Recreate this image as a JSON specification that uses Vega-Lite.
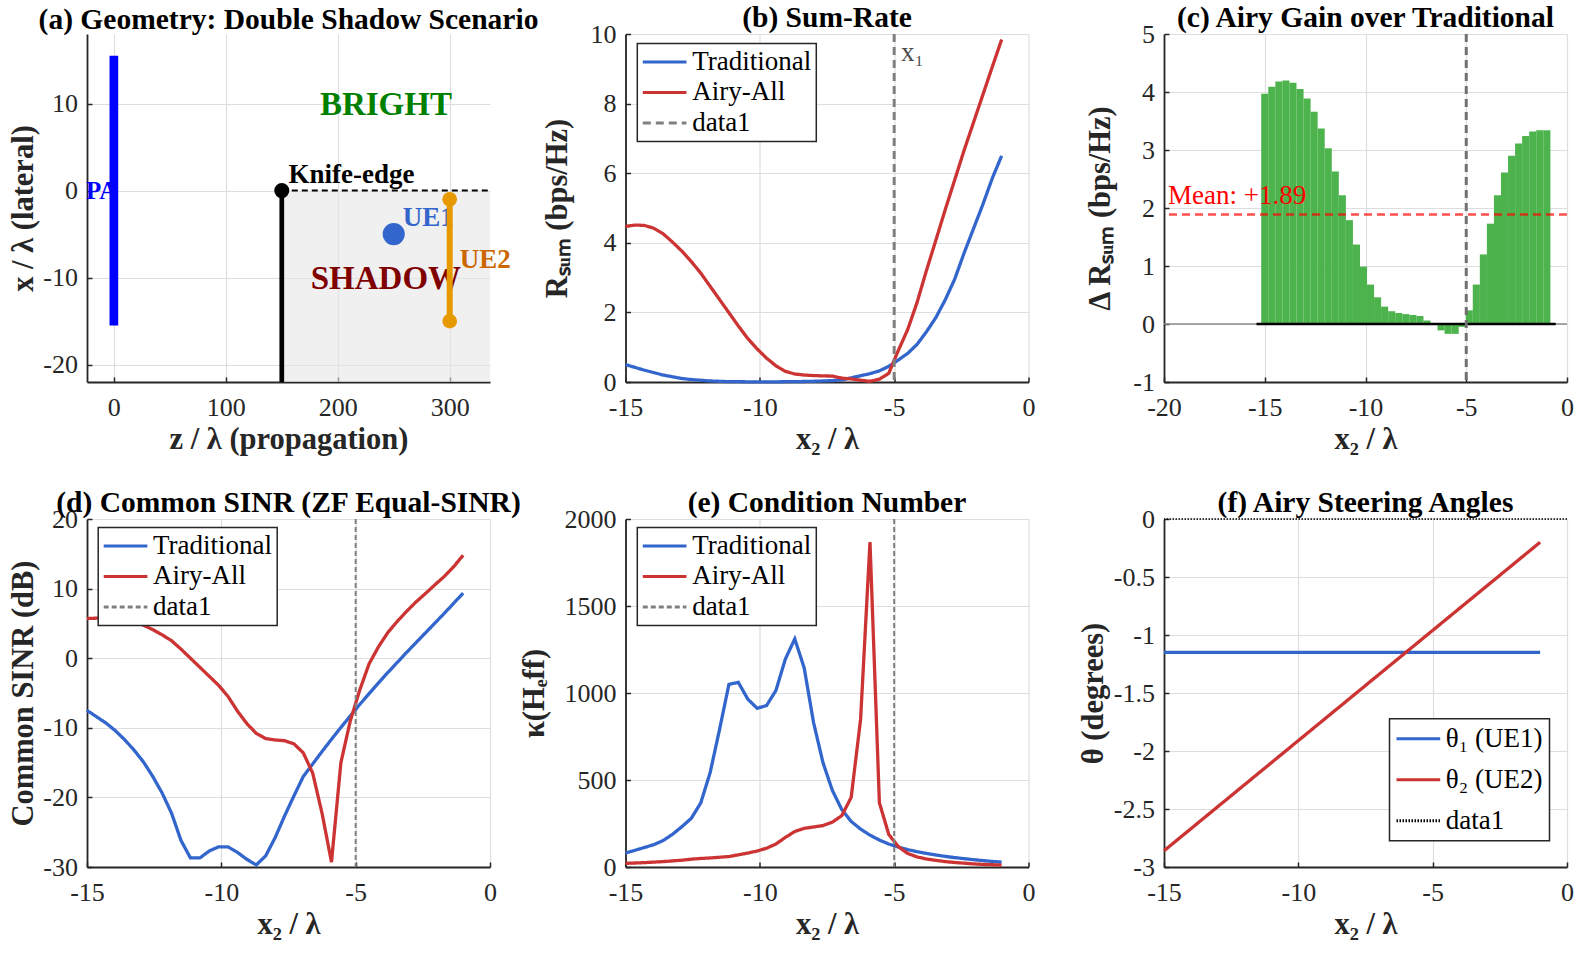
{
  "$schema": "https://vega.github.io/schema/vega-lite/v6.json",
  "background": "#FFFFFF",
  "padding": {"left": 8, "top": 3, "right": 2, "bottom": 2},
  "columns": 3,
  "spacing": {"row": 137, "column": 135.5},
  "bounds": "flush",
  "resolve": {
    "scale": {"color": "independent", "strokeDash": "independent"},
    "legend": {"color": "independent", "strokeDash": "independent"}
  },
  "config": {
    "font": "Liberation Serif",
    "view": {"stroke": null},
    "title": {"font": "Liberation Serif", "fontSize": 29.5, "fontWeight": "bold", "color": "#000000", "anchor": "middle", "frame": "group", "offset": 7, "baseline": "alphabetic"},
    "axis": {
      "domainColor": "#262626", "domainWidth": 1.8,
      "tickColor": "#262626", "tickWidth": 1.5, "tickSize": -5,
      "gridColor": "#DEDEDE", "gridWidth": 1.2,
      "labelFont": "Liberation Serif", "labelFontSize": 26, "labelColor": "#262626",
      "labelFlush": false, "labelOverlap": false, "labelBound": false,
      "labelExpr": "'' + datum.value",
      "titleFont": "Liberation Serif", "titleFontSize": 30.5, "titleFontWeight": "bold", "titleColor": "#262626"
    },
    "axisX": {"labelPadding": 38, "labelBaseline": "alphabetic", "titleY": 66, "titleBaseline": "alphabetic"},
    "axisY": {"labelPadding": 14.5, "titleAngle": -90, "titleBaseline": "alphabetic"},
    "legend": {
      "labelFont": "Liberation Serif", "labelFontSize": 27, "labelColor": "#000000",
      "symbolType": "M-1.9,0H1.9", "symbolSize": 529, "symbolStrokeWidth": 3,
      "symbolOffset": 8.85, "labelOffset": 14, "padding": 5, "rowPadding": 2.5,
      "strokeColor": "#262626", "fillColor": "#FFFFFF", "strokeWidth": 1.5
    }
  },
  "datasets": {
    "perf": [
      {"x": -15, "s": "Traditional", "R": 0.5, "S": -7.5, "K": 80}, {"x": -15, "s": "Airy-All", "R": 4.47, "S": 5.7, "K": 21},
      {"x": -14.65, "s": "Traditional", "R": 0.42, "S": -8.4, "K": 96}, {"x": -14.65, "s": "Airy-All", "R": 4.51, "S": 5.75, "K": 23},
      {"x": -14.3, "s": "Traditional", "R": 0.34, "S": -9.3, "K": 112}, {"x": -14.3, "s": "Airy-All", "R": 4.5, "S": 5.75, "K": 25},
      {"x": -13.95, "s": "Traditional", "R": 0.27, "S": -10.4, "K": 128}, {"x": -13.95, "s": "Airy-All", "R": 4.42, "S": 5.7, "K": 28},
      {"x": -13.6, "s": "Traditional", "R": 0.2, "S": -11.7, "K": 152}, {"x": -13.6, "s": "Airy-All", "R": 4.26, "S": 5.5, "K": 31},
      {"x": -13.25, "s": "Traditional", "R": 0.15, "S": -13.2, "K": 188}, {"x": -13.25, "s": "Airy-All", "R": 4.02, "S": 5.2, "K": 35},
      {"x": -12.9, "s": "Traditional", "R": 0.1, "S": -14.9, "K": 232}, {"x": -12.9, "s": "Airy-All", "R": 3.76, "S": 4.75, "K": 39},
      {"x": -12.55, "s": "Traditional", "R": 0.07, "S": -17, "K": 280}, {"x": -12.55, "s": "Airy-All", "R": 3.46, "S": 4.1, "K": 45},
      {"x": -12.2, "s": "Traditional", "R": 0.05, "S": -19.4, "K": 368}, {"x": -12.2, "s": "Airy-All", "R": 3.13, "S": 3.35, "K": 49},
      {"x": -11.85, "s": "Traditional", "R": 0.03, "S": -22.3, "K": 542}, {"x": -11.85, "s": "Airy-All", "R": 2.75, "S": 2.5, "K": 52},
      {"x": -11.5, "s": "Traditional", "R": 0.02, "S": -26.2, "K": 790}, {"x": -11.5, "s": "Airy-All", "R": 2.37, "S": 1.3, "K": 56},
      {"x": -11.15, "s": "Traditional", "R": 0.01, "S": -28.7, "K": 1050}, {"x": -11.15, "s": "Airy-All", "R": 1.99, "S": 0, "K": 60},
      {"x": -10.8, "s": "Traditional", "R": 0.01, "S": -28.7, "K": 1061}, {"x": -10.8, "s": "Airy-All", "R": 1.61, "S": -1.3, "K": 70},
      {"x": -10.45, "s": "Traditional", "R": 0.005, "S": -27.7, "K": 965}, {"x": -10.45, "s": "Airy-All", "R": 1.25, "S": -2.6, "K": 80},
      {"x": -10.1, "s": "Traditional", "R": 0.005, "S": -27.1, "K": 912}, {"x": -10.1, "s": "Airy-All", "R": 0.95, "S": -3.9, "K": 92},
      {"x": -9.75, "s": "Traditional", "R": 0.005, "S": -27.1, "K": 928}, {"x": -9.75, "s": "Airy-All", "R": 0.685, "S": -5.5, "K": 108},
      {"x": -9.4, "s": "Traditional", "R": 0.005, "S": -27.9, "K": 1015}, {"x": -9.4, "s": "Airy-All", "R": 0.465, "S": -7.6, "K": 132},
      {"x": -9.05, "s": "Traditional", "R": 0.008, "S": -28.9, "K": 1195}, {"x": -9.05, "s": "Airy-All", "R": 0.305, "S": -9.4, "K": 170},
      {"x": -8.7, "s": "Traditional", "R": 0.01, "S": -29.7, "K": 1311}, {"x": -8.7, "s": "Airy-All", "R": 0.23, "S": -10.8, "K": 204},
      {"x": -8.35, "s": "Traditional", "R": 0.015, "S": -28.4, "K": 1145}, {"x": -8.35, "s": "Airy-All", "R": 0.2, "S": -11.55, "K": 222},
      {"x": -8, "s": "Traditional", "R": 0.02, "S": -25.8, "K": 830}, {"x": -8, "s": "Airy-All", "R": 0.185, "S": -11.75, "K": 230},
      {"x": -7.65, "s": "Traditional", "R": 0.03, "S": -22.7, "K": 600}, {"x": -7.65, "s": "Airy-All", "R": 0.175, "S": -11.85, "K": 238},
      {"x": -7.3, "s": "Traditional", "R": 0.04, "S": -19.8, "K": 440}, {"x": -7.3, "s": "Airy-All", "R": 0.17, "S": -12.3, "K": 258},
      {"x": -6.95, "s": "Traditional", "R": 0.06, "S": -17, "K": 330}, {"x": -6.95, "s": "Airy-All", "R": 0.11, "S": -13.6, "K": 295},
      {"x": -6.6, "s": "Traditional", "R": 0.12, "S": -15.2, "K": 262}, {"x": -6.6, "s": "Airy-All", "R": 0.09, "S": -16.5, "K": 400},
      {"x": -6.25, "s": "Traditional", "R": 0.18, "S": -13.4, "K": 218}, {"x": -6.25, "s": "Airy-All", "R": 0.05, "S": -22.3, "K": 848},
      {"x": -5.9, "s": "Traditional", "R": 0.24, "S": -11.65, "K": 183}, {"x": -5.9, "s": "Airy-All", "R": 0.02, "S": -29.3, "K": 1868},
      {"x": -5.55, "s": "Traditional", "R": 0.32, "S": -9.95, "K": 155}, {"x": -5.55, "s": "Airy-All", "R": 0.08, "S": -15, "K": 369},
      {"x": -5.2, "s": "Traditional", "R": 0.45, "S": -8.3, "K": 132}, {"x": -5.2, "s": "Airy-All", "R": 0.25, "S": -9, "K": 187},
      {"x": -4.85, "s": "Traditional", "R": 0.63, "S": -6.65, "K": 115}, {"x": -4.85, "s": "Airy-All", "R": 0.9, "S": -4.6, "K": 118},
      {"x": -4.5, "s": "Traditional", "R": 0.82, "S": -5.1, "K": 100}, {"x": -4.5, "s": "Airy-All", "R": 1.5, "S": -0.8, "K": 78},
      {"x": -4.15, "s": "Traditional", "R": 1.08, "S": -3.55, "K": 88}, {"x": -4.15, "s": "Airy-All", "R": 2.28, "S": 1.65, "K": 58},
      {"x": -3.8, "s": "Traditional", "R": 1.44, "S": -2.05, "K": 78}, {"x": -3.8, "s": "Airy-All", "R": 3.2, "S": 3.7, "K": 46},
      {"x": -3.45, "s": "Traditional", "R": 1.85, "S": -0.6, "K": 69}, {"x": -3.45, "s": "Airy-All", "R": 4.07, "S": 5.3, "K": 38},
      {"x": -3.1, "s": "Traditional", "R": 2.36, "S": 0.85, "K": 61}, {"x": -3.1, "s": "Airy-All", "R": 4.95, "S": 6.75, "K": 31},
      {"x": -2.75, "s": "Traditional", "R": 2.95, "S": 2.25, "K": 54}, {"x": -2.75, "s": "Airy-All", "R": 5.8, "S": 8.1, "K": 26},
      {"x": -2.4, "s": "Traditional", "R": 3.7, "S": 3.65, "K": 48}, {"x": -2.4, "s": "Airy-All", "R": 6.65, "S": 9.3, "K": 22},
      {"x": -2.05, "s": "Traditional", "R": 4.4, "S": 5.05, "K": 42}, {"x": -2.05, "s": "Airy-All", "R": 7.45, "S": 10.55, "K": 18},
      {"x": -1.7, "s": "Traditional", "R": 5.1, "S": 6.45, "K": 37}, {"x": -1.7, "s": "Airy-All", "R": 8.25, "S": 11.75, "K": 15},
      {"x": -1.35, "s": "Traditional", "R": 5.85, "S": 7.9, "K": 32}, {"x": -1.35, "s": "Airy-All", "R": 9.05, "S": 13.15, "K": 13},
      {"x": -1, "s": "Traditional", "R": 6.5, "S": 9.35, "K": 28}, {"x": -1, "s": "Airy-All", "R": 9.84, "S": 14.8, "K": 11}
    ],
    "gain": [
      {"x": -15, "g": 3.97}, {"x": -14.65, "g": 4.09}, {"x": -14.3, "g": 4.18}, {"x": -13.95, "g": 4.2},
      {"x": -13.6, "g": 4.16}, {"x": -13.25, "g": 4.05}, {"x": -12.9, "g": 3.89}, {"x": -12.55, "g": 3.66},
      {"x": -12.2, "g": 3.37}, {"x": -11.85, "g": 3.03}, {"x": -11.5, "g": 2.63}, {"x": -11.15, "g": 2.22},
      {"x": -10.8, "g": 1.79}, {"x": -10.45, "g": 1.37}, {"x": -10.1, "g": 0.99}, {"x": -9.75, "g": 0.68},
      {"x": -9.4, "g": 0.46}, {"x": -9.05, "g": 0.3}, {"x": -8.7, "g": 0.22}, {"x": -8.35, "g": 0.19},
      {"x": -8, "g": 0.17}, {"x": -7.65, "g": 0.155}, {"x": -7.3, "g": 0.14}, {"x": -6.95, "g": 0.06},
      {"x": -6.6, "g": 0.005}, {"x": -6.25, "g": -0.11}, {"x": -5.9, "g": -0.17}, {"x": -5.55, "g": -0.17},
      {"x": -5.2, "g": -0.05}, {"x": -4.85, "g": 0.235}, {"x": -4.5, "g": 0.68}, {"x": -4.15, "g": 1.2},
      {"x": -3.8, "g": 1.73}, {"x": -3.45, "g": 2.22}, {"x": -3.1, "g": 2.61}, {"x": -2.75, "g": 2.9},
      {"x": -2.4, "g": 3.11}, {"x": -2.05, "g": 3.24}, {"x": -1.7, "g": 3.32}, {"x": -1.35, "g": 3.34},
      {"x": -1, "g": 3.34}
    ],
    "angles": [
      {"x": -15, "t1": -1.15, "t2": -2.86}, {"x": -14.65, "t1": -1.15, "t2": -2.794}, {"x": -14.3, "t1": -1.15, "t2": -2.727},
      {"x": -13.95, "t1": -1.15, "t2": -2.661}, {"x": -13.6, "t1": -1.15, "t2": -2.594}, {"x": -13.25, "t1": -1.15, "t2": -2.528},
      {"x": -12.9, "t1": -1.15, "t2": -2.461}, {"x": -12.55, "t1": -1.15, "t2": -2.395}, {"x": -12.2, "t1": -1.15, "t2": -2.328},
      {"x": -11.85, "t1": -1.15, "t2": -2.262}, {"x": -11.5, "t1": -1.15, "t2": -2.195}, {"x": -11.15, "t1": -1.15, "t2": -2.129},
      {"x": -10.8, "t1": -1.15, "t2": -2.062}, {"x": -10.45, "t1": -1.15, "t2": -1.996}, {"x": -10.1, "t1": -1.15, "t2": -1.929},
      {"x": -9.75, "t1": -1.15, "t2": -1.863}, {"x": -9.4, "t1": -1.15, "t2": -1.796}, {"x": -9.05, "t1": -1.15, "t2": -1.73},
      {"x": -8.7, "t1": -1.15, "t2": -1.663}, {"x": -8.35, "t1": -1.15, "t2": -1.597}, {"x": -8, "t1": -1.15, "t2": -1.53},
      {"x": -7.65, "t1": -1.15, "t2": -1.464}, {"x": -7.3, "t1": -1.15, "t2": -1.397}, {"x": -6.95, "t1": -1.15, "t2": -1.331},
      {"x": -6.6, "t1": -1.15, "t2": -1.264}, {"x": -6.25, "t1": -1.15, "t2": -1.198}, {"x": -5.9, "t1": -1.15, "t2": -1.131},
      {"x": -5.55, "t1": -1.15, "t2": -1.065}, {"x": -5.2, "t1": -1.15, "t2": -0.998}, {"x": -4.85, "t1": -1.15, "t2": -0.932},
      {"x": -4.5, "t1": -1.15, "t2": -0.865}, {"x": -4.15, "t1": -1.15, "t2": -0.799}, {"x": -3.8, "t1": -1.15, "t2": -0.732},
      {"x": -3.45, "t1": -1.15, "t2": -0.666}, {"x": -3.1, "t1": -1.15, "t2": -0.599}, {"x": -2.75, "t1": -1.15, "t2": -0.533},
      {"x": -2.4, "t1": -1.15, "t2": -0.466}, {"x": -2.05, "t1": -1.15, "t2": -0.4}, {"x": -1.7, "t1": -1.15, "t2": -0.333},
      {"x": -1.35, "t1": -1.15, "t2": -0.267}, {"x": -1, "t1": -1.15, "t2": -0.2}
    ]
  },
  "concat": [
    {
      "width": 403, "height": 348,
      "title": {"text": "(a) Geometry: Double Shadow Scenario", "dy": 8},
      "encoding": {
        "x": {"field": "z", "type": "quantitative", "scale": {"domain": [-24, 336], "nice": false, "zero": false}, "axis": {"values": [0, 100, 200, 300], "title": "z / λ (propagation)"}},
        "y": {"field": "x", "type": "quantitative", "scale": {"domain": [-22, 18], "nice": false, "zero": false}, "axis": {"values": [-20, -10, 0, 10], "title": "x / λ (lateral)", "titleX": -55}}
      },
      "layer": [
        {"data": {"values": [{"z": 150, "zb": 336, "x": -22, "xb": 0}]},
         "mark": {"type": "rect", "fill": "#E6E6E6", "opacity": 0.6},
         "encoding": {"x2": {"field": "zb"}, "y2": {"field": "xb"}}},
        {"data": {"values": [{"z": -25, "x": 0, "t": "PA"}]},
         "mark": {"type": "text", "align": "left", "baseline": "middle", "fontSize": 25, "fontWeight": "bold", "color": "#0000FF"},
         "encoding": {"text": {"field": "t"}}},
        {"data": {"values": [{"z": 0, "x": -15.5, "xb": 15.5}]},
         "mark": {"type": "rule", "stroke": "#0000FF", "strokeWidth": 8.7, "strokeCap": "butt"},
         "encoding": {"y2": {"field": "xb"}}},
        {"data": {"values": [{"z": 150, "x": -22, "xb": 0}]},
         "mark": {"type": "rule", "stroke": "#000000", "strokeWidth": 4.7, "strokeCap": "butt"},
         "encoding": {"y2": {"field": "xb"}}},
        {"data": {"values": [{"z": 150, "zb": 336, "x": 0}]},
         "mark": {"type": "rule", "stroke": "#000000", "strokeWidth": 2, "strokeDash": [6, 4]},
         "encoding": {"x2": {"field": "zb"}}},
        {"data": {"values": [{"z": 150, "x": 0}]},
         "mark": {"type": "point", "shape": "circle", "filled": true, "size": 227, "color": "#000000", "opacity": 1}},
        {"data": {"values": [{"z": 250, "x": -5}]},
         "mark": {"type": "point", "shape": "circle", "filled": true, "size": 490, "color": "#3366CC", "opacity": 1}},
        {"data": {"values": [{"z": 156, "x": 1.8, "t": "Knife-edge"}]},
         "mark": {"type": "text", "align": "left", "baseline": "middle", "fontSize": 27, "fontWeight": "bold", "color": "#000000"},
         "encoding": {"text": {"field": "t"}}},
        {"data": {"values": [{"z": 258, "x": -3.2, "t": "UE1"}]},
         "mark": {"type": "text", "align": "left", "baseline": "middle", "fontSize": 27, "fontWeight": "bold", "color": "#3366CC"},
         "encoding": {"text": {"field": "t"}}},
        {"data": {"values": [{"z": 243, "x": -10.2, "t": "SHADOW"}]},
         "mark": {"type": "text", "align": "center", "baseline": "middle", "fontSize": 33, "fontWeight": "bold", "color": "#800000"},
         "encoding": {"text": {"field": "t"}}},
        {"data": {"values": [{"z": 243, "x": 9.8, "t": "BRIGHT"}]},
         "mark": {"type": "text", "align": "center", "baseline": "middle", "fontSize": 33, "fontWeight": "bold", "color": "#008000"},
         "encoding": {"text": {"field": "t"}}},
        {"data": {"values": [{"z": 300, "x": -15, "xb": -1}]},
         "mark": {"type": "rule", "stroke": "#E69900", "strokeWidth": 6},
         "encoding": {"y2": {"field": "xb"}}},
        {"data": {"values": [{"z": 300, "x": -15}, {"z": 300, "x": -1}]},
         "mark": {"type": "point", "shape": "circle", "filled": true, "size": 216, "color": "#E69900", "opacity": 1}},
        {"data": {"values": [{"z": 309, "x": -8, "t": "UE2"}]},
         "mark": {"type": "text", "align": "left", "baseline": "middle", "fontSize": 27, "fontWeight": "bold", "color": "#CC6600"},
         "encoding": {"text": {"field": "t"}}}
      ]
    },
    {
      "width": 403, "height": 348,
      "title": {"text": "(b) Sum-Rate", "dy": 19.5},
      "layer": [
        {"data": {"name": "perf"},
         "mark": {"type": "line", "strokeWidth": 3.3},
         "encoding": {
           "x": {"field": "x", "type": "quantitative", "scale": {"domain": [-15, 0], "nice": false}, "axis": {"values": [-15, -10, -5, 0], "title": "x₂ / λ"}},
           "y": {"field": "R", "type": "quantitative", "scale": {"domain": [0, 10], "nice": false}, "axis": {"values": [0, 2, 4, 6, 8, 10], "title": "Rₛᵤₘ  (bps/Hz)", "titleX": -59}},
           "color": {"field": "s", "type": "nominal", "scale": {"domain": ["Traditional", "Airy-All", "data1"], "range": ["#3366CC", "#CC3333", "#808080"]},
                     "legend": {"title": null, "orient": "none", "legendX": 11.8, "legendY": 9.4, "symbolType": "M-1.9,0H1.9", "symbolStrokeWidth": 3}},
           "strokeDash": {"field": "s", "type": "nominal", "scale": {"domain": ["Traditional", "Airy-All", "data1"], "range": [[1, 0], [1, 0], [8, 5]]},
                     "legend": {"title": null, "orient": "none", "legendX": 11.8, "legendY": 9.4, "symbolType": "M-1.9,0H1.9", "symbolStrokeWidth": 3}}
         }},
        {"data": {"values": [{"x": -5, "s": "data1"}]},
         "mark": {"type": "rule", "strokeWidth": 3},
         "encoding": {"x": {"field": "x", "type": "quantitative"}, "color": {"field": "s", "type": "nominal"}, "strokeDash": {"field": "s", "type": "nominal"}}},
        {"data": {"values": [{"x": -4.75, "y": 9.23, "t": "x₁"}]},
         "mark": {"type": "text", "align": "left", "baseline": "alphabetic", "fontSize": 27, "color": "#4D4D4D"},
         "encoding": {"x": {"field": "x", "type": "quantitative"}, "y": {"field": "y", "type": "quantitative"}, "text": {"field": "t"}}}
      ]
    },
    {
      "width": 403, "height": 348,
      "title": {"text": "(c) Airy Gain over Traditional", "dy": 19.5},
      "layer": [
        {"data": {"values": [{"y": 0}]},
         "mark": {"type": "rule", "stroke": "#8C8C8C", "strokeWidth": 1.5},
         "encoding": {"y": {"field": "y", "type": "quantitative", "scale": {"domain": [-1, 5], "nice": false}, "axis": {"values": [-1, 0, 1, 2, 3, 4, 5], "title": "Δ Rₛᵤₘ  (bps/Hz)", "titleX": -54.5}}}},
        {"data": {"name": "gain"},
         "mark": {"type": "bar", "width": 7.1, "color": "#4DB34D"},
         "encoding": {
           "x": {"field": "x", "type": "quantitative", "scale": {"domain": [-20, 0], "nice": false, "padding": 0}, "axis": {"values": [-20, -15, -10, -5, 0], "title": "x₂ / λ"}},
           "y": {"field": "g", "type": "quantitative"}}},
        {"data": {"values": [{"xa": -15.41, "xb": -0.56, "y": 0}]},
         "mark": {"type": "rule", "stroke": "#000000", "strokeWidth": 2.5},
         "encoding": {"x": {"field": "xa", "type": "quantitative"}, "x2": {"field": "xb"}, "y": {"field": "y", "type": "quantitative"}}},
        {"data": {"values": [{"m": 1.89}]},
         "mark": {"type": "rule", "stroke": "#FF0000", "strokeOpacity": 0.7, "strokeWidth": 2.5, "strokeDash": [8, 5]},
         "encoding": {"y": {"field": "m", "type": "quantitative"}}},
        {"data": {"values": [{"x": -19.8, "y": 2.07, "t": "Mean: +1.89"}]},
         "mark": {"type": "text", "align": "left", "baseline": "alphabetic", "fontSize": 27, "color": "#FF0000"},
         "encoding": {"x": {"field": "x", "type": "quantitative"}, "y": {"field": "y", "type": "quantitative"}, "text": {"field": "t"}}},
        {"data": {"values": [{"x": -5}]},
         "mark": {"type": "rule", "stroke": "#707070", "strokeWidth": 3, "strokeDash": [8, 5]},
         "encoding": {"x": {"field": "x", "type": "quantitative"}}}
      ]
    },
    {
      "width": 403, "height": 348,
      "title": {"text": "(d) Common SINR (ZF Equal-SINR)", "dy": 19.5},
      "layer": [
        {"data": {"name": "perf"},
         "mark": {"type": "line", "strokeWidth": 3.3},
         "encoding": {
           "x": {"field": "x", "type": "quantitative", "scale": {"domain": [-15, 0], "nice": false}, "axis": {"values": [-15, -10, -5, 0], "title": "x₂ / λ"}},
           "y": {"field": "S", "type": "quantitative", "scale": {"domain": [-30, 20], "nice": false}, "axis": {"values": [-30, -20, -10, 0, 10, 20], "title": "Common SINR (dB)", "titleX": -54.5}},
           "color": {"field": "s", "type": "nominal", "scale": {"domain": ["Traditional", "Airy-All", "data1"], "range": ["#3366CC", "#CC3333", "#808080"]},
                     "legend": {"title": null, "orient": "none", "legendX": 11.2, "legendY": 8.4, "symbolType": "M-1.9,0H1.9", "symbolStrokeWidth": 3}},
           "strokeDash": {"field": "s", "type": "nominal", "scale": {"domain": ["Traditional", "Airy-All", "data1"], "range": [[1, 0], [1, 0], [5, 3]]},
                     "legend": {"title": null, "orient": "none", "legendX": 11.2, "legendY": 8.4, "symbolType": "M-1.9,0H1.9", "symbolStrokeWidth": 3}}
         }},
        {"data": {"values": [{"x": -5, "s": "data1"}]},
         "mark": {"type": "rule", "strokeWidth": 2},
         "encoding": {"x": {"field": "x", "type": "quantitative"}, "color": {"field": "s", "type": "nominal"}, "strokeDash": {"field": "s", "type": "nominal"}}}
      ]
    },
    {
      "width": 403, "height": 348,
      "title": {"text": "(e) Condition Number", "dy": 19.5},
      "layer": [
        {"data": {"name": "perf"},
         "mark": {"type": "line", "strokeWidth": 3.3},
         "encoding": {
           "x": {"field": "x", "type": "quantitative", "scale": {"domain": [-15, 0], "nice": false}, "axis": {"values": [-15, -10, -5, 0], "title": "x₂ / λ"}},
           "y": {"field": "K", "type": "quantitative", "scale": {"domain": [0, 2000], "nice": false}, "axis": {"values": [0, 500, 1000, 1500, 2000], "title": "κ(Hₑff)", "titleX": -82}},
           "color": {"field": "s", "type": "nominal", "scale": {"domain": ["Traditional", "Airy-All", "data1"], "range": ["#3366CC", "#CC3333", "#808080"]},
                     "legend": {"title": null, "orient": "none", "legendX": 11.8, "legendY": 8.4, "symbolType": "M-1.9,0H1.9", "symbolStrokeWidth": 3}},
           "strokeDash": {"field": "s", "type": "nominal", "scale": {"domain": ["Traditional", "Airy-All", "data1"], "range": [[1, 0], [1, 0], [5, 3]]},
                     "legend": {"title": null, "orient": "none", "legendX": 11.8, "legendY": 8.4, "symbolType": "M-1.9,0H1.9", "symbolStrokeWidth": 3}}
         }},
        {"data": {"values": [{"x": -5, "s": "data1"}]},
         "mark": {"type": "rule", "strokeWidth": 2},
         "encoding": {"x": {"field": "x", "type": "quantitative"}, "color": {"field": "s", "type": "nominal"}, "strokeDash": {"field": "s", "type": "nominal"}}}
      ]
    },
    {
      "width": 403, "height": 348,
      "title": {"text": "(f) Airy Steering Angles", "dy": 19.5},
      "layer": [
        {"data": {"name": "angles"},
         "transform": [{"fold": ["t1", "t2"], "as": ["s", "th"]}],
         "mark": {"type": "line", "strokeWidth": 3.3},
         "encoding": {
           "x": {"field": "x", "type": "quantitative", "scale": {"domain": [-15, 0], "nice": false}, "axis": {"values": [-15, -10, -5, 0], "title": "x₂ / λ"}},
           "y": {"field": "th", "type": "quantitative", "scale": {"domain": [-3, 0], "nice": false}, "axis": {"values": [-3, -2.5, -2, -1.5, -1, -0.5, 0], "title": "θ (degrees)", "titleX": -61.5}},
           "color": {"field": "s", "type": "nominal", "scale": {"domain": ["t1", "t2", "data1"], "range": ["#3366CC", "#CC3333", "#000000"]},
                     "legend": {"title": null, "orient": "none", "legendX": 225.5, "legendY": 199.7, "symbolType": "M-1.9,0H1.9", "symbolStrokeWidth": 3, "rowPadding": 13, "padding": 6.5,
                                "labelExpr": "datum.label == 't1' ? 'θ₁ (UE1)' : datum.label == 't2' ? 'θ₂ (UE2)' : 'data1'"}},
           "strokeDash": {"field": "s", "type": "nominal", "scale": {"domain": ["t1", "t2", "data1"], "range": [[1, 0], [1, 0], [1.5, 1.5]]},
                     "legend": {"title": null, "orient": "none", "legendX": 225.5, "legendY": 199.7, "symbolType": "M-1.9,0H1.9", "symbolStrokeWidth": 3, "rowPadding": 13, "padding": 6.5,
                                "labelExpr": "datum.label == 't1' ? 'θ₁ (UE1)' : datum.label == 't2' ? 'θ₂ (UE2)' : 'data1'"}}
         }},
        {"data": {"values": [{"y": 0, "s": "data1"}]},
         "mark": {"type": "rule", "strokeWidth": 1.5},
         "encoding": {"y": {"field": "y", "type": "quantitative"}, "color": {"field": "s", "type": "nominal"}, "strokeDash": {"field": "s", "type": "nominal"}}}
      ]
    }
  ]
}
